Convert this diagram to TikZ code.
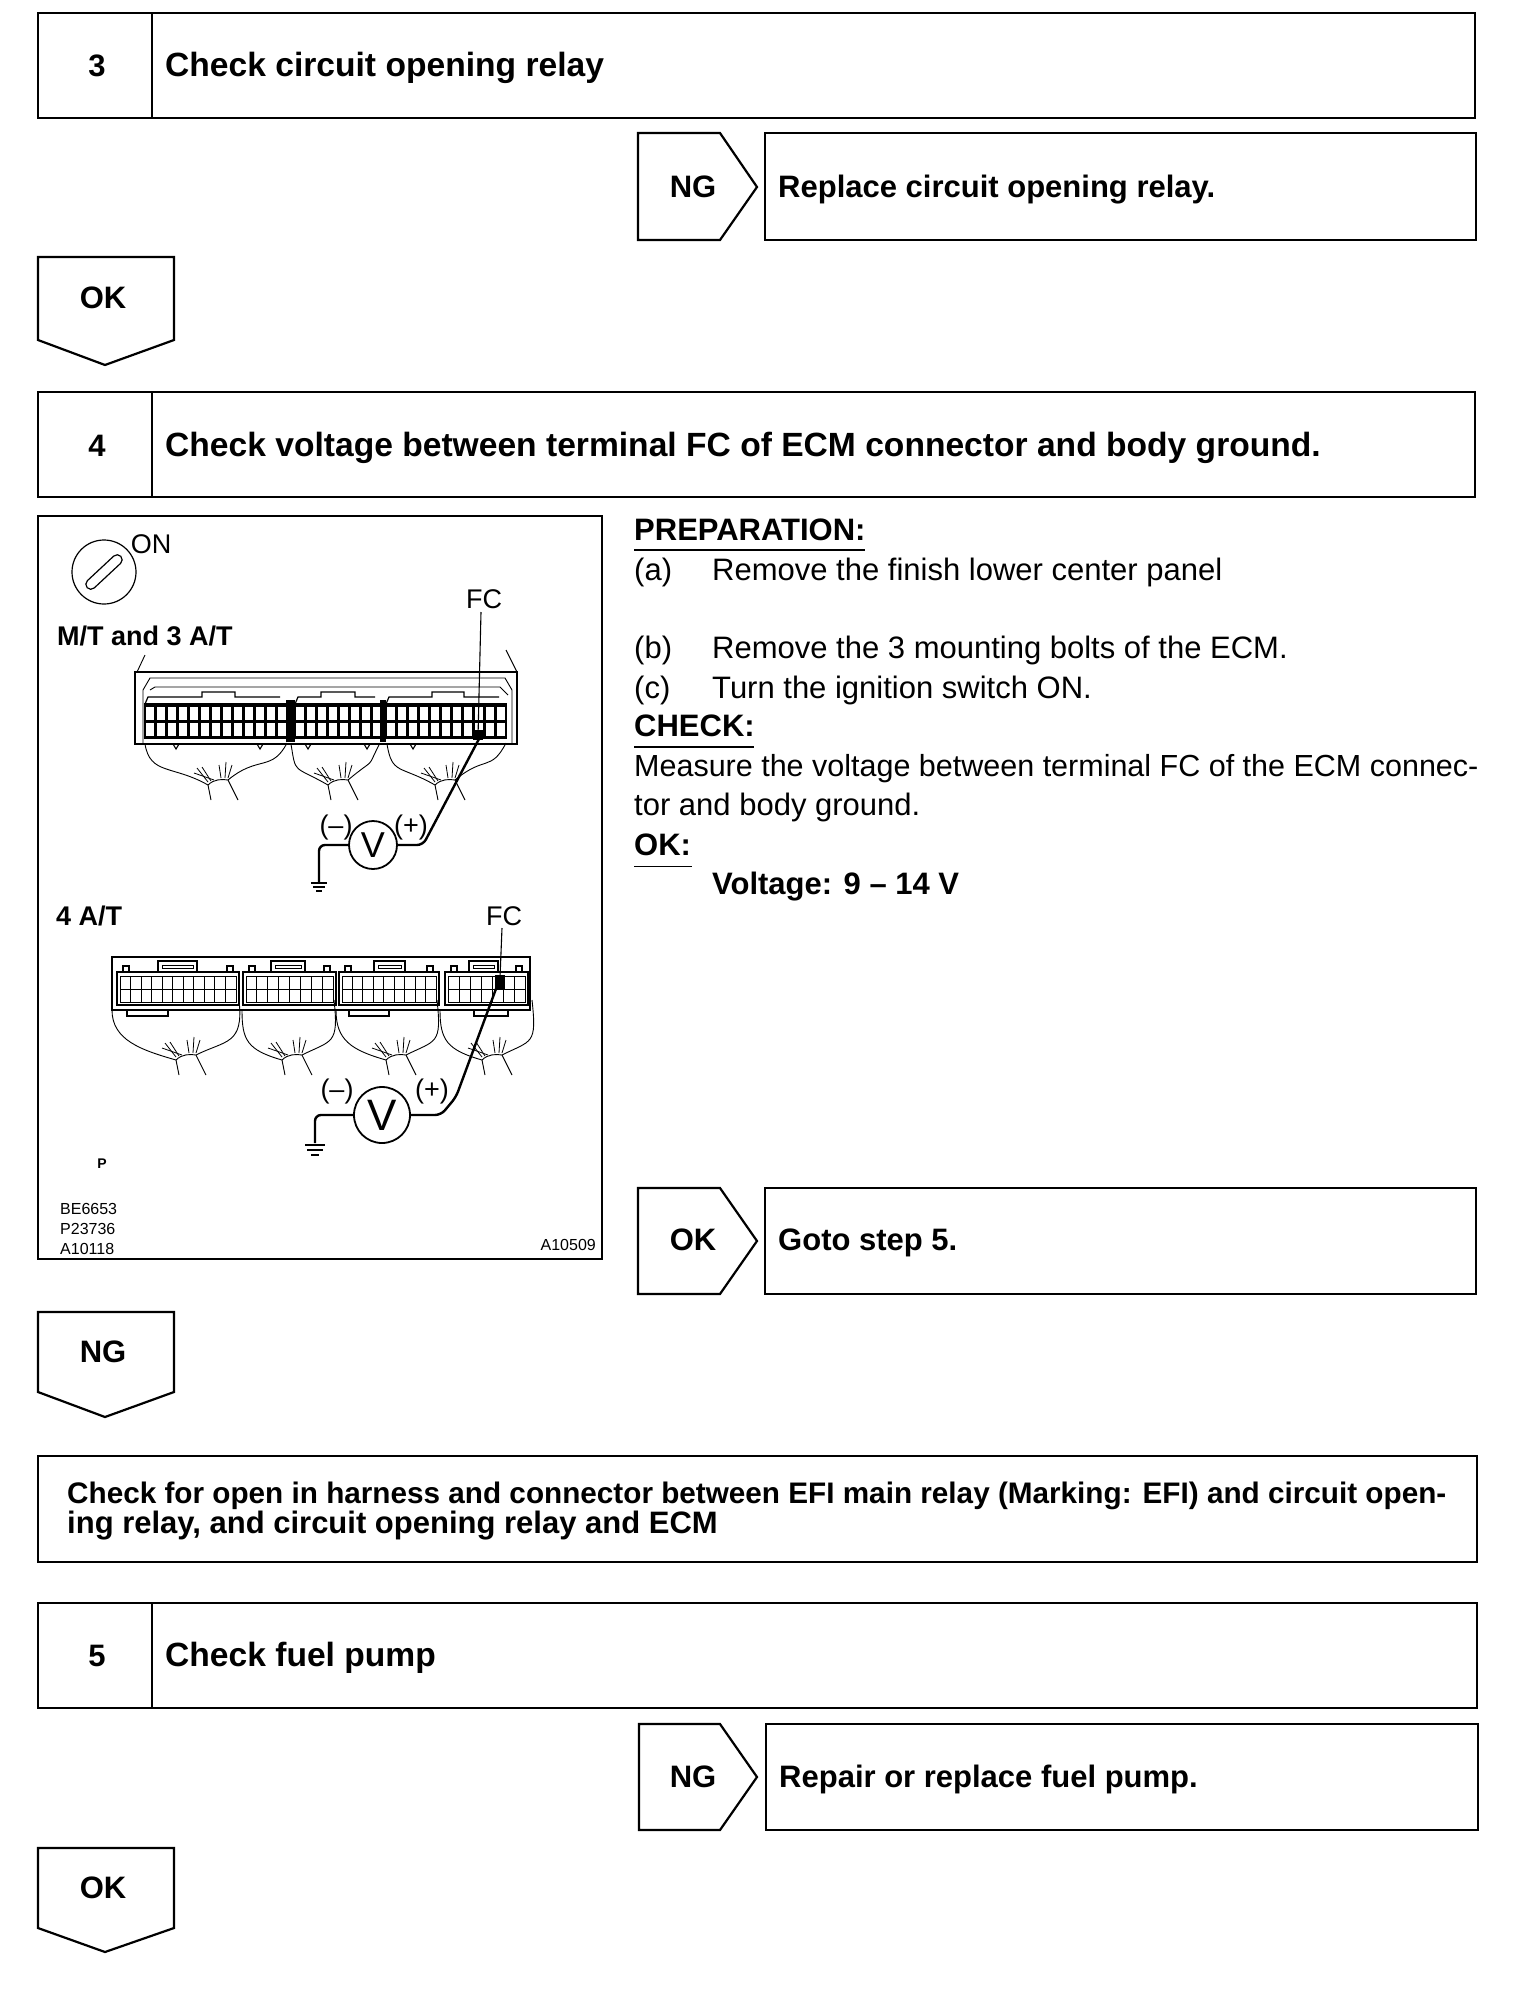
\documentclass[tikz,border=0pt]{standalone}
\usepackage{fontspec}
\setmainfont{Liberation Sans}
\usepackage{tikz}
\begin{document}
\begin{tikzpicture}[x=1pt,y=-1pt,line join=miter,
		framebox/.style={draw,line width=2.2pt},
		head/.style={anchor=base west,inner sep=0pt,font=\fontsize{31}{35}\selectfont\bfseries},
		title/.style={anchor=base west,inner sep=0pt,font=\fontsize{33.6}{37}\selectfont\bfseries},
		numlabel/.style={anchor=base,inner sep=0pt,font=\fontsize{31}{35}\selectfont\bfseries},
		body/.style={anchor=base west,inner sep=0pt,font=\fontsize{31}{35}\selectfont},
		bodyhead/.style={anchor=base west,inner sep=0pt,font=\fontsize{31}{35}\selectfont\bfseries},
		figlabel/.style={anchor=base,inner sep=0pt,font=\fontsize{27}{30}\selectfont},
		figtitle/.style={anchor=base west,inner sep=0pt,font=\fontsize{27}{30}\selectfont\bfseries},
		figcode/.style={anchor=base west,inner sep=0pt,font=\fontsize{16}{18}\selectfont},
		meter/.style={draw,circle,line width=1.8pt,inner sep=0pt},
		probe/.style={line width=2.4pt,rounded corners=6pt},
		wirefan/.pic={
			\draw[line width=0.9pt] (0,0) .. controls (6,-6) and (14,-6) .. (20,-5);
			\draw[line width=0.9pt] (0,0) -- (3,15);
			\draw[line width=0.9pt] (20,-5) -- (30,15);
			\foreach \xa/\ya/\xb/\yb in {0/-3/-11/-17, 3/-4/-6/-18, 6/-5/-14/-12, 13/-7/11/-20, 17/-7/18/-23, 20/-7/24/-20}
				\draw[line width=0.8pt] (\xa,\ya) -- (\xb,\yb);
		}]
	\useasboundingbox (0,0) rectangle (1520,1992);

	% step 3
	\draw[framebox] (38,13) rectangle (1475,118);
	\draw[framebox] (152,13) -- (152,118);
	\node[numlabel] (numthree) at (97,76) {3};
	\node[title] (titlethree) at (165,76) {Check circuit opening relay};

	\draw[framebox] (638,133) -- (720,133) -- (757,187) -- (720,240) -- (638,240) -- cycle;
	\node[numlabel] (ngthree) at (693,197) {NG};
	\draw[framebox] (765,133) rectangle (1476,240);
	\node[head] (fixthree) at (778,197) {Replace circuit opening relay.};

	\draw[framebox] (38,257) -- (174,257) -- (174,340) -- (105,365) -- (38,340) -- cycle;
	\node[numlabel] (okthree) at (103,308) {OK};

	% step 4
	\draw[framebox] (38,392) rectangle (1475,497);
	\draw[framebox] (152,392) -- (152,497);
	\node[numlabel] (numfour) at (97,456) {4};
	\node[title] (titlefour) at (165,456) {Check voltage between terminal FC of ECM connector and body ground.};

	% figure frame
	\draw[framebox] (38,516) rectangle (602,1259);
	\draw[line width=1.2pt] (104,572) circle (32);
	\draw[line width=1.2pt,rounded corners=5pt,rotate around={43:(104,572)}] (81,567) rectangle (127,577);
	\node[figlabel] (onlabel) at (151,553) {ON};
	\node[figlabel] (fcone) at (484,608) {FC};
	\node[figtitle] (mtlabel) at (57,645) {M/T and 3 A/T};

	% upper connector
	\draw[line width=1.1pt] (135,672) rectangle (517,744);
	\draw[line width=0.9pt] (145,655) -- (137,672) (506,650) -- (517,672);
	\draw[line width=0.9pt] (143,744) -- (143,690) -- (150,678) -- (505,678) -- (512,690) -- (512,744);
	\draw[line width=0.9pt] (150,690) -- (155,687) -- (500,687) -- (508,695);
	\foreach \xa/\xt/\xu/\n in {145/202/235/12, 295/321/355/7, 386/432/464/10}{
		\draw[line width=1.2pt] (\xa,704) -- (\xa+3,697) -- (\xt,697) -- (\xt,692) -- (\xu,692) -- (\xu,697) -- ({\xa+11*\n+3},697);
		\fill ({\xa-1},703) rectangle ({\xa+11*\n+11},739);
		\foreach \i in {0,...,\n}{
			\fill[white] ({\xa+1+\i*11},707) rectangle ++(7.5,13);
			\fill[white] ({\xa+1+\i*11},723) rectangle ++(7.5,13);
		}
	}
	\fill (286,700) rectangle (295,742);
	\fill (380,700) rectangle (386,742);
	\foreach \xa in {176,260,308,367,413}
		\draw[line width=1.1pt] (\xa-3,744) -- (\xa,749) -- (\xa+3,744);
	\foreach \xa/\xb/\xc in {145/208/287, 291/328/380, 387/435/506}{
		\draw[line width=0.9pt] (\xa,744) .. controls (\xa+5,775) and ({\xb-35},765) .. (\xb,785);
		\draw[line width=0.9pt] (\xc,743) .. controls (\xc-15,772) and ({\xb+50},755) .. ({\xb+20},780);
		\pic at (\xb,785) {wirefan};
	}
	\fill (473,730) rectangle (483,740);
	\node[meter,minimum size=48pt] (vone) at (373,845) {};
	\node[inner sep=0pt,font=\fontsize{36}{36}\selectfont] (vonetext) at (vone.center) {V};
	\node[figlabel] (minusone) at (336,834) {(–)};
	\node[figlabel] (plusone) at (411,834) {(+)};
	\coordinate (gndone) at (319,882);
	\coordinate (pinone) at (480,737);
	\coordinate (fcfootone) at (478,737);
	\coordinate (fctopone) at (481,612);
	\draw[line width=1.1pt] (fctopone) -- (fcfootone);
	\draw[probe] (vone.west) -- (319,845) -- (gndone);
	\draw[probe] (vone.east) -- (423,845) -- (pinone);
	\draw[line width=1.4pt] (311,883) -- (327,883) (313,887) -- (325,887) (316,891) -- (322,891);

	% lower connector
	\node[figtitle] (atlabel) at (56,925) {4 A/T};
	\node[figlabel] (fctwo) at (504,925) {FC};
	\draw[line width=1.1pt] (112,957) rectangle (530,1010);
	\foreach \xa/\xc/\xt/\xu/\n in {117/239/158/197/11, 243/336/271/305/8, 339/439/374/405/9, 445/528/469/498/7}{
		\draw[line width=2.2pt] (\xa,972) rectangle (\xc,1005);
		\draw[line width=1.2pt] (\xt,972) -- (\xt,961) -- (\xu,961) -- (\xu,972);
		\draw[line width=0.9pt] ({\xt+4},965) rectangle ({\xu-4},968);
		\draw[line width=1.2pt] (\xa+6,972) -- (\xa+6,966) -- (\xa+12,966) -- (\xa+12,972);
		\draw[line width=1.2pt] (\xc-12,972) -- (\xc-12,966) -- (\xc-6,966) -- (\xc-6,972);
		\foreach \i in {1,...,\n}{
			\draw[line width=0.9pt] ({\xa+3+(\i-1)*(\xc-\xa-6)/\n},976) rectangle ++({(\xc-\xa-6)/\n},13);
			\draw[line width=0.9pt] ({\xa+3+(\i-1)*(\xc-\xa-6)/\n},989) rectangle ++({(\xc-\xa-6)/\n},13);
		}
	}
	\foreach \xa/\xc in {127/168,349/389,474/508}
		\draw[line width=1.1pt] (\xa,1010) -- (\xa,1016) -- (\xc,1016) -- (\xc,1010);
	\foreach \xa/\xb/\xc in {112/176/239, 242/282/334, 336/386/437, 440/482/532}{
		\draw[line width=0.9pt] (\xa,1010) .. controls (\xa,1040) and ({\xb-35},1050) .. (\xb,1060);
		\draw[line width=0.9pt] (\xc,1000) .. controls (\xc+5,1045) and ({\xb+50},1040) .. ({\xb+20},1055);
		\pic at (\xb,1060) {wirefan};
	}
	\fill (495,975) rectangle (505,990);
	\node[meter,minimum size=56pt] (vtwo) at (382,1115) {};
	\node[inner sep=0pt,font=\fontsize{44}{44}\selectfont] (vtwotext) at (vtwo.center) {V};
	\node[figlabel] (minustwo) at (337,1098) {(–)};
	\node[figlabel] (plustwo) at (432,1098) {(+)};
	\coordinate (gndtwo) at (315,1143);
	\coordinate (pintwo) at (500,978);
	\coordinate (fctoptwo) at (502,928);
	\draw[line width=1.1pt] (fctoptwo) -- (pintwo);
	\draw[probe] (vtwo.west) -- (315,1115) -- (gndtwo);
	\draw[probe] (vtwo.east) -- (441,1115) -- (456,1097) -- (pintwo);
	\draw[line width=1.4pt] (305,1145) -- (325,1145) (307,1150) -- (323,1150) (311,1155) -- (319,1155);
	\node[anchor=base,inner sep=0pt,font=\fontsize{14}{16}\selectfont\bfseries] (plabel) at (102,1168) {P};
	\node[figcode] (codeone) at (60,1214) {BE6653};
	\node[figcode] (codetwo) at (60,1234) {P23736};
	\node[figcode] (codethree) at (60,1254) {A10118};
	\node[figcode,anchor=base east] (codefour) at (596,1250) {A10509};

	% right column
	\node[bodyhead] (prep) at (634,540) {PREPARATION:};
	\draw[line width=1.1pt] (634,550) -- (865,550);
	\node[body] (itema) at (634,580) {(a)};
	\node[body] (texta) at (712,580) {Remove the finish lower center panel};
	\node[body] (itemb) at (634,658) {(b)};
	\node[body] (textb) at (712,658) {Remove the 3 mounting bolts of the ECM.};
	\node[body] (itemc) at (634,698) {(c)};
	\node[body] (textc) at (712,698) {Turn the ignition switch ON.};
	\node[bodyhead] (checkhead) at (634,736) {CHECK:};
	\draw[line width=1.1pt] (634,747) -- (754,747);
	\node[body,font=\fontsize{30.5}{35}\selectfont] (measure) at (634,776) {Measure the voltage between terminal FC of the ECM connec-};
	\node[body] (measuretwo) at (634,815) {tor and body ground.};
	\node[bodyhead] (okhead) at (634,855) {OK:};
	\draw[line width=0.9pt] (634,866) -- (692,866);
	\node[bodyhead] (voltage) at (712,894) {Voltage: 9 -- 14 V};

	\draw[framebox] (638,1188) -- (720,1188) -- (757,1241) -- (720,1294) -- (638,1294) -- cycle;
	\node[numlabel] (okfour) at (693,1250) {OK};
	\draw[framebox] (765,1188) rectangle (1476,1294);
	\node[head] (gotofive) at (778,1250) {Goto step 5.};

	\draw[framebox] (38,1312) -- (174,1312) -- (174,1392) -- (105,1417) -- (38,1392) -- cycle;
	\node[numlabel] (ngfour) at (103,1362) {NG};

	% harness check
	\draw[framebox] (38,1456) rectangle (1477,1562);
	\node[head,font=\fontsize{29.7}{33}\selectfont\bfseries] (harnessone) at (67,1503) {Check for open in harness and connector between EFI main relay (Marking: EFI) and circuit open-};
	\node[head] (harnesstwo) at (67,1533) {ing relay, and circuit opening relay and ECM};

	% step 5
	\draw[framebox] (38,1603) rectangle (1477,1708);
	\draw[framebox] (152,1603) -- (152,1708);
	\node[numlabel] (numfive) at (97,1666) {5};
	\node[title] (titlefive) at (165,1666) {Check fuel pump};

	\draw[framebox] (639,1724) -- (720,1724) -- (757,1777) -- (720,1830) -- (639,1830) -- cycle;
	\node[numlabel] (ngfive) at (693,1787) {NG};
	\draw[framebox] (766,1724) rectangle (1478,1830);
	\node[head] (fixfive) at (779,1787) {Repair or replace fuel pump.};

	\draw[framebox] (38,1848) -- (174,1848) -- (174,1928) -- (105,1952) -- (38,1928) -- cycle;
	\node[numlabel] (okfive) at (103,1898) {OK};
\end{tikzpicture}
\end{document}
